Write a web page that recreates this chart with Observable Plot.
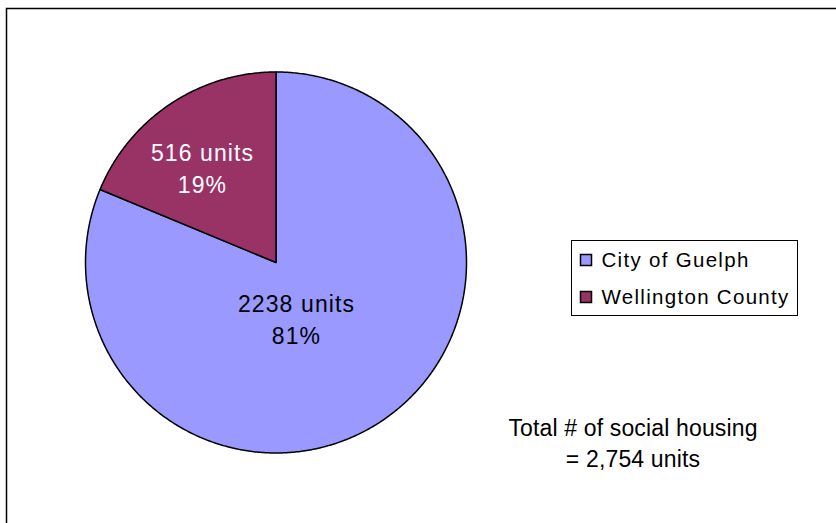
<!DOCTYPE html>
<html>
<head>
<meta charset="utf-8">
<script src="https://cdn.jsdelivr.net/npm/d3@7"></script>
<script src="https://cdn.jsdelivr.net/npm/@observablehq/plot@0.6"></script>
<style>
  html, body { margin: 0; padding: 0; background: #fff; }
  #chart { width: 836px; height: 523px; overflow: hidden; }
</style>
</head>
<body>
<div id="chart"></div>
<script>
// ---- data ----
const categories = ["City of Guelph", "Wellington County"];
const units = [2238, 516];
const colors = ["#9999FF", "#993366"];
const labelColors = ["#000000", "#FFFFFF"];
const totalLines = ["Total # of social housing", "= 2,754 units"];

// ---- layout ----
const W = 836, H = 523;
const cx = 275.5, cy = 262, R = 190.5;
const ux = px => (px - cx) / R;
const uy = py => (cy - py) / R;

const total = d3.sum(units);
const arcs = d3.pie().sort(null).value(d => d)(units);

// slice outlines (unit circle coordinates, y up, clockwise from 12 o'clock)
const slicePts = [];
arcs.forEach((a, i) => {
  const name = categories[i];
  slicePts.push({name, x: 0, y: 0});
  const n = Math.max(2, Math.ceil((a.endAngle - a.startAngle) / (Math.PI / 360)));
  for (let k = 0; k <= n; k++) {
    const t = a.startAngle + (a.endAngle - a.startAngle) * k / n;
    slicePts.push({name, x: Math.sin(t), y: Math.cos(t)});
  }
  slicePts.push({name, x: 0, y: 0});
});

const sliceLabels = categories.map((c, i) => ({
  name: c,
  text: `${units[i]} units\n${Math.round(units[i] / total * 100)}%`,
  color: labelColors[i]
}));
// label anchor points (pixels)
const labelPos = {"City of Guelph": [296, 317], "Wellington County": [202, 166]};

const legendRows = categories.map((c, i) => ({name: c, row: i}));

const plot = Plot.plot({
  width: W,
  height: H,
  margin: 0,
  x: {domain: [ux(0), ux(W)], axis: null},
  y: {domain: [uy(H), uy(0)], axis: null},
  color: {domain: categories, range: colors},
  style: {fontFamily: "'Liberation Sans', Arial, sans-serif", background: "#fff", overflow: "hidden"},
  marks: [
    // outer chart frame
    Plot.rect([0], {x1: ux(6.5), x2: ux(W + 10), y1: uy(8.5), y2: uy(H + 10), fill: "none", stroke: "#000", strokeWidth: 1.5}),
    // pie slices
    Plot.line(slicePts, {x: "x", y: "y", z: "name", fill: "name", stroke: "#000", strokeWidth: 1.5, strokeLinejoin: "round"}),
    // slice labels
    Plot.text(sliceLabels, {
      x: d => ux(labelPos[d.name][0]),
      y: d => uy(labelPos[d.name][1]),
      text: "text", fill: "color", fontSize: 23, lineHeight: 1.43,
      textAnchor: "middle"
    }),
    // legend box
    Plot.rect([0], {x1: ux(571.5), x2: ux(797.5), y1: uy(240.5), y2: uy(315.5), fill: "#fff", stroke: "#000", strokeWidth: 1}),
    Plot.rect(legendRows, {
      x1: ux(580.5), x2: ux(591.5),
      y1: d => uy(254.5 + d.row * 37), y2: d => uy(265.5 + d.row * 37),
      fill: "name", stroke: "#000", strokeWidth: 1.5
    }),
    Plot.text(legendRows, {
      x: ux(601), y: d => uy(260 + d.row * 37),
      text: "name", textAnchor: "start", fontSize: 20.5, fill: "#000"
    }),
    // total annotation
    Plot.text([totalLines.join("\n")], {
      x: ux(632.5), y: uy(441), text: d => d, textAnchor: "middle",
      fontSize: 23, lineHeight: 1.33, fill: "#000"
    })
  ]
});
// widen letter spacing to match the reference's text metrics
const textGroups = d3.select(plot).selectAll('g[aria-label="text"]').nodes();
const spacings = [1.1, 1.3, 0.15];
textGroups.forEach((g, i) => d3.select(g).style("letter-spacing", spacings[i] + "px"));
document.getElementById("chart").appendChild(plot);
</script>
</body>
</html>
